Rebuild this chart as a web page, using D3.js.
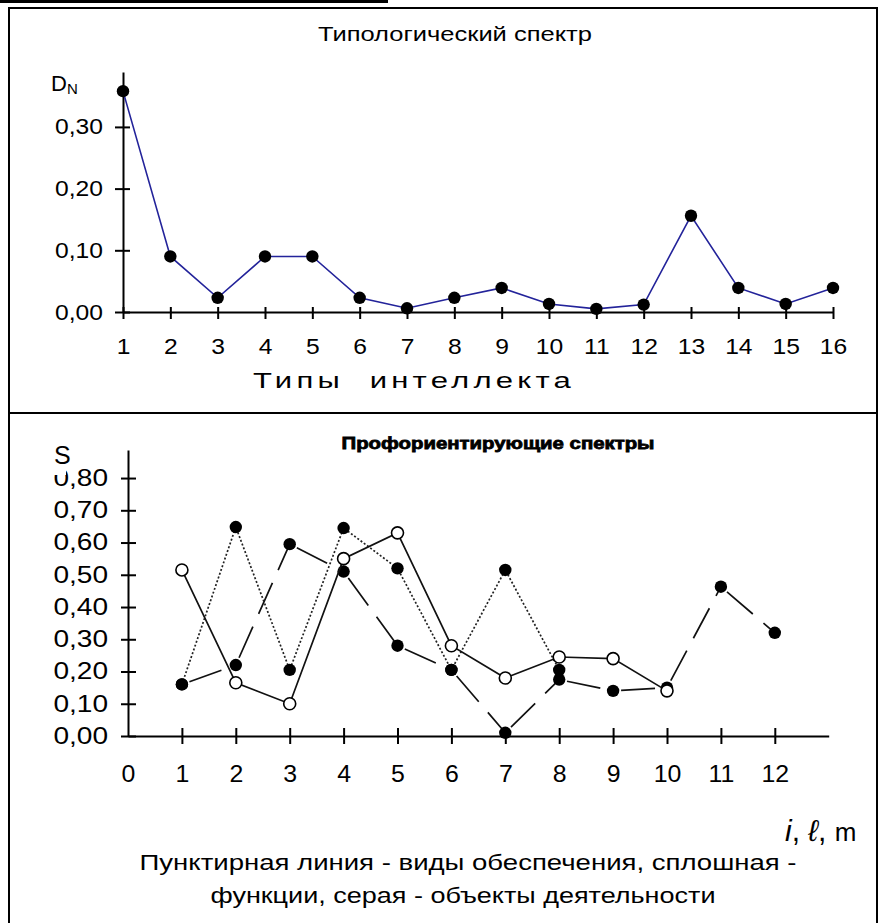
<!DOCTYPE html>
<html>
<head>
<meta charset="utf-8">
<script src="https://cdn.jsdelivr.net/npm/d3@7"></script>
<style>
  body { margin: 0; background: #fff; }
  svg text { font-family: "Liberation Sans", Arial, sans-serif; fill: #000; }
</style>
</head>
<body>
<svg id="chart" width="882" height="923"></svg>
<script>
// ---- top chart: typological spectrum ----
const intellectTypes = [1, 2, 3, 4, 5, 6, 7, 8, 9, 10, 11, 12, 13, 14, 15, 16];
const dnValues = [0.358, 0.09, 0.023, 0.09, 0.09, 0.023, 0.006, 0.023, 0.039, 0.013, 0.005, 0.012, 0.156, 0.039, 0.013, 0.039];
const dnTicks = [0, 0.1, 0.2, 0.3];

// ---- bottom chart: career guidance spectra ----
const functionIdx = [1, 2, 3, 4, 5, 6, 7, 8, 9, 10];
const functionValues = [0.515, 0.165, 0.10, 0.55, 0.63, 0.28, 0.18, 0.245, 0.24, 0.14];
const supportIdx = [1, 2, 3, 4, 5, 6, 7, 8];
const supportValues = [0.16, 0.648, 0.205, 0.645, 0.52, 0.205, 0.515, 0.205];
const objectIdx = [1, 2, 3, 4, 5, 6, 7, 8, 9, 10, 11, 12];
const objectValues = [0.16, 0.22, 0.595, 0.51, 0.28, 0.205, 0.01, 0.175, 0.14, 0.15, 0.463, 0.32];
const sTicks = [0, 0.1, 0.2, 0.3, 0.4, 0.5, 0.6, 0.7, 0.8];
const indexTicks = [0, 1, 2, 3, 4, 5, 6, 7, 8, 9, 10, 11, 12];

const svg = d3.select('#chart');
const commaFmt = d => d3.format('.2f')(d).replace('.', ',');

// the source picture is stretched sideways, so widen the glyphs a bit
function stretch(sel, k) {
    sel.each(function () {
        const w = this.getComputedTextLength();
        d3.select(this).attr('textLength', w * k).attr('lengthAdjust', 'spacingAndGlyphs');
    });
}

const MARK_R = 6.2;

// ---- frame ----
svg.append('rect').attr('x', 0).attr('y', 0).attr('width', 388).attr('height', 3).attr('fill', '#000');
svg.append('path')
    .attr('d', 'M9,923 V8 H877 V923')
    .attr('fill', 'none').attr('stroke', '#000').attr('stroke-width', 2);
svg.append('line').attr('x1', 9).attr('x2', 877).attr('y1', 413).attr('y2', 413)
    .attr('stroke', '#000').attr('stroke-width', 2);

// ================= top chart =================
const x1 = d3.scaleLinear().domain([1, 16]).range([123, 833]);
const y1 = d3.scaleLinear().domain([0, 0.389]).range([312, 72]);

const topChart = svg.append('g');

const xAxis1 = d3.axisBottom(x1).tickValues(intellectTypes).tickFormat(d3.format('d'))
    .tickSizeInner(0).tickSizeOuter(0).tickPadding(26);
const yAxis1 = d3.axisLeft(y1).tickValues(dnTicks).tickFormat(commaFmt)
    .tickSizeInner(0).tickSizeOuter(0).tickPadding(20);

const xg1 = topChart.append('g').attr('transform', `translate(0,${y1(0)})`).call(xAxis1);
const yg1 = topChart.append('g').attr('transform', `translate(${x1(1)},0)`).call(yAxis1);

[xg1, yg1].forEach(g => {
    g.select('.domain').attr('stroke', '#000').attr('stroke-width', 2);
    g.selectAll('text').attr('font-size', 22).attr('font-family', '"Liberation Sans", Arial, sans-serif');
});
xg1.selectAll('.tick line').attr('y1', -5).attr('y2', 7).attr('stroke', '#000').attr('stroke-width', 2);
yg1.selectAll('.tick line').attr('x1', -8).attr('x2', 7).attr('stroke', '#000').attr('stroke-width', 2);
stretch(xg1.selectAll('text'), 1.12);
stretch(yg1.selectAll('text'), 1.12);

const dnData = intellectTypes.map((t, i) => ({ x: t, y: dnValues[i] }));

topChart.append('path')
    .datum(dnData)
    .attr('fill', 'none')
    .attr('stroke', '#23239a')
    .attr('stroke-width', 1.6)
    .attr('d', d3.line().x(d => x1(d.x)).y(d => y1(d.y)));

topChart.selectAll('.dn-mark')
    .data(dnData)
    .join('circle')
    .attr('class', 'dn-mark')
    .attr('cx', d => x1(d.x))
    .attr('cy', d => y1(d.y))
    .attr('r', MARK_R)
    .attr('fill', '#000');

topChart.append('text').attr('x', 455).attr('y', 41).attr('text-anchor', 'middle')
    .attr('font-size', 21).text('Типологический спектр')
    .attr('textLength', 274).attr('lengthAdjust', 'spacingAndGlyphs');

const dn = topChart.append('text').attr('x', 51).attr('y', 91).attr('font-size', 22);
dn.append('tspan').text('D');
dn.append('tspan').attr('font-size', 15).attr('dy', 3).text('N');

topChart.append('text').attr('x', 414).attr('y', 388).attr('text-anchor', 'middle')
    .attr('font-size', 22).attr('letter-spacing', 3)
    .attr('xml:space', 'preserve').text('Типы  интеллекта')
    .attr('textLength', 322).attr('lengthAdjust', 'spacingAndGlyphs');

// ================= bottom chart =================
const x2 = d3.scaleLinear().domain([0, 13]).range([128, 828.7]);
const y2 = d3.scaleLinear().domain([0, 0.887]).range([736, 450]);

const botChart = svg.append('g');

const xAxis2 = d3.axisBottom(x2).tickValues(indexTicks).tickFormat(d3.format('d'))
    .tickSizeInner(0).tickSizeOuter(0).tickPadding(30);
const yAxis2 = d3.axisLeft(y2).tickValues(sTicks).tickFormat(commaFmt)
    .tickSizeInner(0).tickSizeOuter(0).tickPadding(20);

const xg2 = botChart.append('g').attr('transform', `translate(0,${y2(0)})`).call(xAxis2);
const yg2 = botChart.append('g').attr('transform', `translate(${x2(0)},0)`).call(yAxis2);

[xg2, yg2].forEach(g => {
    g.select('.domain').attr('stroke', '#000').attr('stroke-width', 2);
    g.selectAll('text').attr('font-size', 23).attr('font-family', '"Liberation Sans", Arial, sans-serif');
});
xg2.selectAll('.tick line').attr('y1', -8).attr('y2', 8).attr('stroke', '#000').attr('stroke-width', 2);
xg2.selectAll('.tick').filter(d => d === 0).select('line').remove();
yg2.selectAll('.tick line').attr('x1', -7).attr('x2', 8).attr('stroke', '#000').attr('stroke-width', 2);
stretch(xg2.selectAll('text'), 1.08);
stretch(yg2.selectAll('text'), 1.22);

const toPoints = (xs, ys) => xs.map((v, i) => ({ x: v, y: ys[i] }));
const objectData = toPoints(objectIdx, objectValues);
const functionData = toPoints(functionIdx, functionValues);
const supportData = toPoints(supportIdx, supportValues);

// long dashes restart on every segment, as in the source
const objectSegs = d3.pairs(objectData);
botChart.selectAll('.obj-seg')
    .data(objectSegs)
    .join('line')
    .attr('class', 'obj-seg')
    .attr('x1', d => x2(d[0].x)).attr('y1', d => y2(d[0].y))
    .attr('x2', d => x2(d[1].x)).attr('y2', d => y2(d[1].y))
    .attr('stroke', '#111')
    .attr('stroke-width', 1.7)
    .attr('stroke-dasharray', '34,14')
    .attr('stroke-dashoffset', -8);

botChart.append('path')
    .datum(supportData)
    .attr('fill', 'none')
    .attr('stroke', '#222')
    .attr('stroke-width', 1.7)
    .attr('stroke-dasharray', '2,2')
    .attr('d', d3.line().x(d => x2(d.x)).y(d => y2(d.y)));

botChart.selectAll('.filled-mark')
    .data(objectData.concat(supportData))
    .join('circle')
    .attr('class', 'filled-mark')
    .attr('cx', d => x2(d.x))
    .attr('cy', d => y2(d.y))
    .attr('r', MARK_R)
    .attr('fill', '#000');

botChart.append('path')
    .datum(functionData)
    .attr('fill', 'none')
    .attr('stroke', '#111')
    .attr('stroke-width', 1.7)
    .attr('d', d3.line().x(d => x2(d.x)).y(d => y2(d.y)));

botChart.selectAll('.open-mark')
    .data(functionData)
    .join('circle')
    .attr('class', 'open-mark')
    .attr('cx', d => x2(d.x))
    .attr('cy', d => y2(d.y))
    .attr('r', 6)
    .attr('fill', '#fff')
    .attr('stroke', '#000')
    .attr('stroke-width', 1.6);

// title
botChart.append('text').attr('x', 498).attr('y', 449).attr('text-anchor', 'middle')
    .attr('font-size', 17).attr('font-weight', 'bold')
    .attr('stroke', '#000').attr('stroke-width', 0.8)
    .text('Профориентирующие спектры')
    .attr('textLength', 313).attr('lengthAdjust', 'spacingAndGlyphs');

// "S" sits over the top of the 0,80 label
botChart.append('rect').attr('x', 44).attr('y', 432).attr('width', 22).attr('height', 43).attr('fill', '#fff');
botChart.append('text').attr('x', 54).attr('y', 464).attr('font-size', 25).text('S');

// axis name
const iml = botChart.append('text').attr('x', 785).attr('y', 841).attr('font-size', 30)
    .attr('font-family', '"Liberation Serif", "Times New Roman", serif');
iml.append('tspan').attr('font-style', 'italic').text('i');
iml.append('tspan').text(', ');
iml.append('tspan').attr('font-style', 'italic').text('ℓ');
iml.append('tspan').text(', ');
iml.append('tspan').attr('font-family', '"Liberation Sans", Arial, sans-serif').attr('font-size', 26).text('m');

botChart.append('text').attr('x', 468).attr('y', 870).attr('text-anchor', 'middle')
    .attr('font-size', 22)
    .text('Пунктирная линия - виды обеспечения, сплошная -')
    .attr('textLength', 657).attr('lengthAdjust', 'spacingAndGlyphs');
botChart.append('text').attr('x', 463).attr('y', 903).attr('text-anchor', 'middle')
    .attr('font-size', 22)
    .text('функции, серая - объекты деятельности')
    .attr('textLength', 505).attr('lengthAdjust', 'spacingAndGlyphs');
</script>
</body>
</html>
